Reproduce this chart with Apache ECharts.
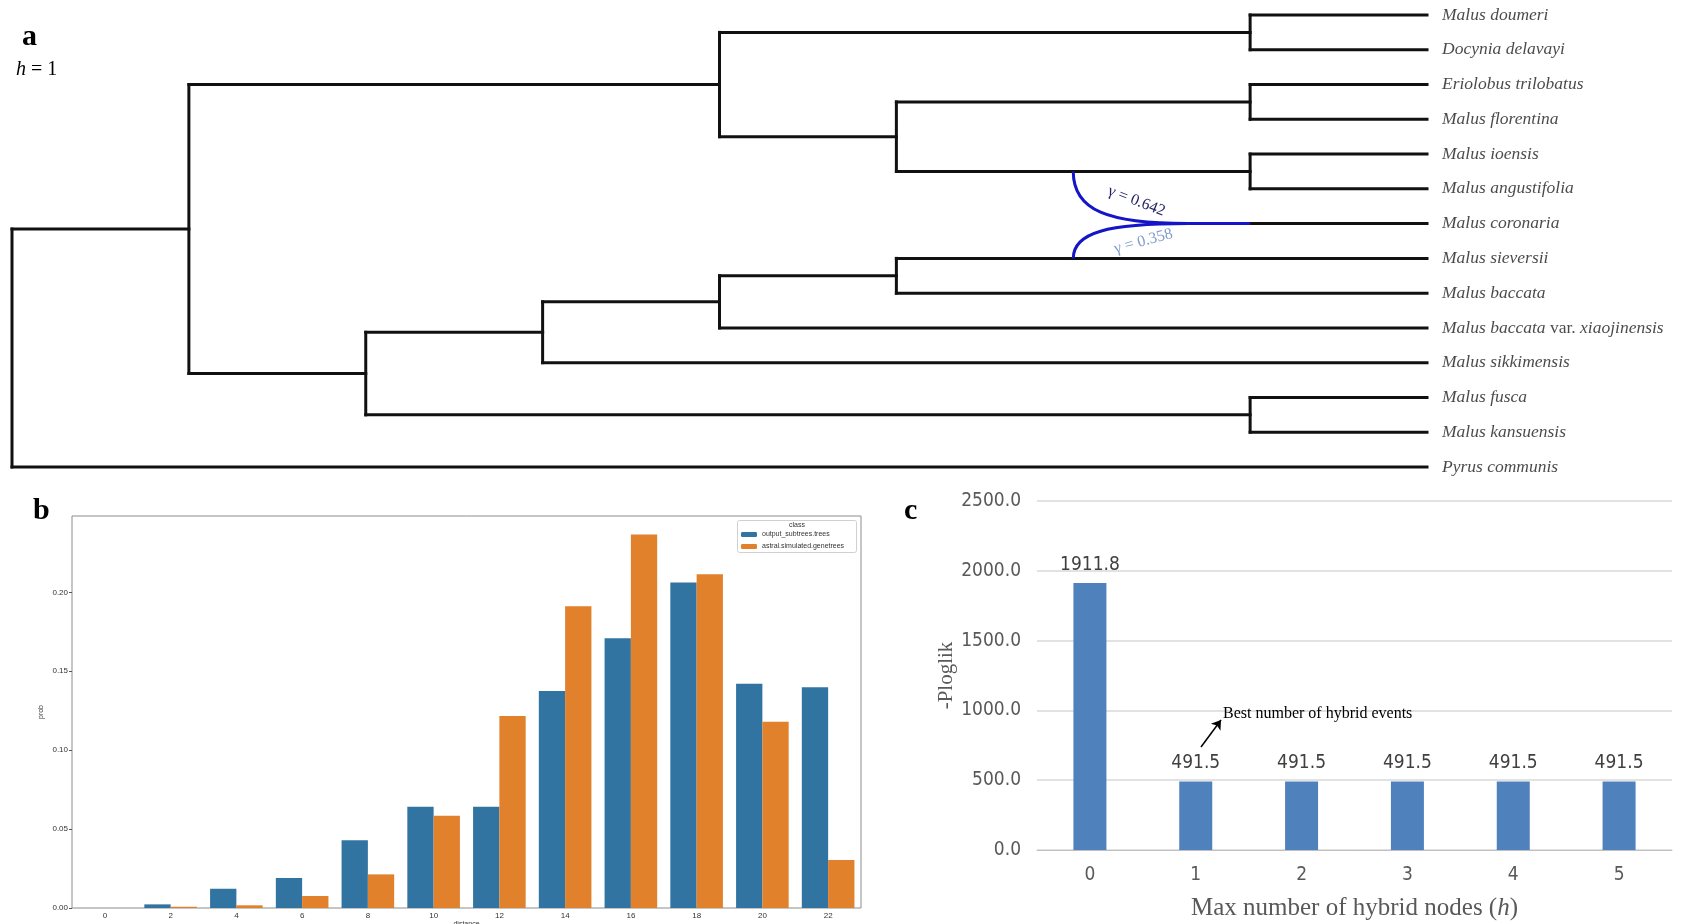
<!DOCTYPE html>
<html lang="en">
<head>
<meta charset="UTF-8">
<title>Malus hybrid network</title>
<script src="https://cdn.jsdelivr.net/npm/echarts@6/dist/echarts.min.js"></script>
<style>
    html, body { margin: 0; padding: 0; background: #fff; }
    #chart { width: 1682px; height: 924px; }
</style>
</head>
<body>
<div id="chart"></div>
<script type="text/javascript">
    // ---- a: network (h = 1) ----
    var leafNames = ['Malus doumeri', 'Docynia delavayi', 'Eriolobus trilobatus', 'Malus florentina',
        'Malus ioensis', 'Malus angustifolia', 'Malus coronaria', 'Malus sieversii', 'Malus baccata',
        'Malus baccata var. xiaojinensis', 'Malus sikkimensis', 'Malus fusca', 'Malus kansuensis', 'Pyrus communis'];
    var nodeDepth = {root: 0, A: 1, G: 2, H: 3, B: 4, I: 4, D: 5, J: 5, C: 7, E: 7, F: 7, K: 7};
    var nodeChildren = {
        root: ['A', 'Pyrus communis'],
        A: ['B', 'G'],
        B: ['C', 'D'],
        C: ['Malus doumeri', 'Docynia delavayi'],
        D: ['E', 'F'],
        E: ['Eriolobus trilobatus', 'Malus florentina'],
        F: ['Malus ioensis', 'Malus angustifolia'],
        G: ['H', 'K'],
        H: ['I', 'Malus sikkimensis'],
        I: ['J', 'Malus baccata var. xiaojinensis'],
        J: ['Malus sieversii', 'Malus baccata'],
        K: ['Malus fusca', 'Malus kansuensis']
    };
    var leafDepth = 8;
    var hybridLeaf = 'Malus coronaria';
    var hybridParents = ['F', 'Malus sieversii'];
    var hybridGamma = [0.642, 0.358];
    var hybridStartDepth = 6, hybridMergeDepth = 6.65, hybridNodeDepth = 7;

    // ---- b: distance distribution ----
    var distCats = ['0', '2', '4', '6', '8', '10', '12', '14', '16', '18', '20', '22'];
    var probSubtrees = [0, 0.0023, 0.0122, 0.019, 0.0429, 0.0642, 0.0642, 0.1375, 0.1709, 0.2062, 0.1421, 0.1399];
    var probAstral = [0, 0.0008, 0.0017, 0.0076, 0.0213, 0.0585, 0.1217, 0.1912, 0.2366, 0.2115, 0.1181, 0.0304];
    var probTicks = [0, 0.05, 0.10, 0.15, 0.20];
    var classNames = ['output_subtrees.trees', 'astral.simulated.genetrees'];

    // ---- c: -ploglik by h ----
    var hybridNodes = ['0', '1', '2', '3', '4', '5'];
    var negPloglik = [1911.8, 491.5, 491.5, 491.5, 491.5, 491.5];

    // tree layout: leaves in order, internal nodes at mean of children
    var yOf = {};
    leafNames.forEach(function (n, i) { yOf[n] = i; });
    function placeY(id) {
        if (yOf[id] !== undefined) return yOf[id];
        var ch = nodeChildren[id], s = 0;
        ch.forEach(function (c) { s += placeY(c); });
        yOf[id] = s / ch.length;
        return yOf[id];
    }
    placeY('root');
    function depthOf(id) { return nodeDepth[id] !== undefined ? nodeDepth[id] : leafDepth; }

    var segments = [];
    Object.keys(nodeChildren).forEach(function (id) {
        var d = nodeDepth[id];
        var ys = nodeChildren[id].map(function (c) { return yOf[c]; });
        segments.push([d, Math.min.apply(null, ys), d, Math.max.apply(null, ys)]);
        nodeChildren[id].forEach(function (c) {
            segments.push([d, yOf[c], depthOf(c), yOf[c]]);
        });
    });
    segments.push([hybridNodeDepth, yOf[hybridLeaf], leafDepth, yOf[hybridLeaf]]);

    var hybridEdges = hybridParents.map(function (p, i) {
        return [hybridStartDepth, yOf[p], hybridMergeDepth, yOf[hybridLeaf], hybridGamma[i]];
    });

    var serif = "'Liberation Serif', 'Times New Roman', serif";
    var narrow = "'Liberation Sans Narrow', 'DejaVu Sans Condensed', 'Noto Sans', sans-serif";

    var chart = echarts.init(document.getElementById('chart'));
    var option = {
        animation: false,
        grid: [
            {left: 12, top: 15, width: 1415, height: 452, outerBoundsMode: 'none'},
            {left: 72, top: 516, width: 789, height: 392, show: true, borderColor: '#8c8c8c', borderWidth: 1,
                outerBoundsMode: 'none'},
            {left: 1037, top: 501, width: 635, height: 349, outerBoundsMode: 'none'}
        ],
        xAxis: [
            {gridIndex: 0, type: 'value', min: 0, max: leafDepth, show: false},
            {
                gridIndex: 1, type: 'category', data: distCats,
                name: 'distance', nameLocation: 'middle', nameGap: 11,
                nameTextStyle: {fontSize: 7, color: '#333'},
                axisLine: {show: false},
                axisTick: {alignWithLabel: true, length: 3, lineStyle: {color: '#555'}},
                axisLabel: {fontSize: 8, color: '#333', margin: 4}
            },
            {
                gridIndex: 2, type: 'category', data: hybridNodes,
                name: 'Max number of hybrid nodes ({i|h})', nameLocation: 'middle', nameGap: 46,
                nameTextStyle: {
                    fontFamily: serif, fontSize: 25, color: '#595959',
                    rich: {i: {fontStyle: 'italic', fontFamily: serif, fontSize: 25, color: '#595959'}}
                },
                axisLine: {lineStyle: {color: '#bfbfbf'}},
                axisTick: {alignWithLabel: false, length: 6, lineStyle: {color: '#bfbfbf'}},
                axisLabel: {fontFamily: narrow, fontSize: 19, color: '#595959', margin: 16}
            }
        ],
        yAxis: [
            {gridIndex: 0, type: 'value', min: 0, max: leafNames.length - 1, inverse: true, show: false},
            {
                gridIndex: 1, type: 'value', min: 0, max: 0.2484, interval: 0.05,
                name: 'prob', nameLocation: 'middle', nameGap: 27, nameRotate: 90,
                nameTextStyle: {fontSize: 7, color: '#333'},
                axisLine: {show: false},
                splitLine: {show: false},
                axisTick: {show: true, length: 3, lineStyle: {color: '#555'}, customValues: probTicks},
                axisLabel: {
                    fontSize: 8, color: '#333', margin: 4, customValues: probTicks,
                    formatter: function (v) { return v.toFixed(2); }
                }
            },
            {
                gridIndex: 2, type: 'value', min: 0, max: 2500, interval: 500,
                name: '-Ploglik', nameLocation: 'middle', nameGap: 78, nameRotate: 90,
                nameTextStyle: {fontFamily: serif, fontSize: 21, color: '#595959'},
                axisLine: {show: false},
                axisTick: {show: false},
                splitLine: {lineStyle: {color: '#d9d9d9', width: 1.5}},
                axisLabel: {
                    fontFamily: narrow, fontSize: 19, color: '#595959', margin: 16,
                    formatter: function (v) { return v.toFixed(1); }
                }
            }
        ],
        legend: {
            data: classNames, orient: 'vertical', left: 741, top: 531, z: 10,
            itemWidth: 16, itemHeight: 5, itemGap: 5,
            textStyle: {fontSize: 7, color: '#333'},
            padding: 0
        },
        graphic: [
            {type: 'text', left: 22, top: 22, style: {text: 'a', font: 'bold 30px ' + serif, fill: '#000'}},
            {type: 'text', left: 16, top: 60, style: {
                text: '{i|h} = 1', fill: '#000', font: '20px ' + serif,
                rich: {i: {fontStyle: 'italic', fontFamily: serif, fontSize: 20}}
            }},
            {type: 'text', left: 33, top: 496, style: {text: 'b', font: 'bold 30px ' + serif, fill: '#000'}},
            {type: 'text', left: 904, top: 496, style: {text: 'c', font: 'bold 30px ' + serif, fill: '#000'}},
            {type: 'rect', shape: {x: 737.5, y: 520.5, width: 119, height: 32, r: 2},
                style: {fill: '#fff', stroke: '#d0d0d0', lineWidth: 1}, z: 1},
            {type: 'text', x: 797, y: 525, style: {text: 'class', fontSize: 7, fill: '#333', align: 'center', verticalAlign: 'middle'}, z: 6},
            {type: 'text', left: 1223, top: 706, style: {text: 'Best number of hybrid events', font: '16px ' + serif, fill: '#000'}, z: 6}
        ],
        series: [
            {
                type: 'custom', xAxisIndex: 0, yAxisIndex: 0, data: segments, silent: true,
                renderItem: function (params, api) {
                    var p1 = api.coord([api.value(0), api.value(1)]);
                    var p2 = api.coord([api.value(2), api.value(3)]);
                    return {
                        type: 'line',
                        shape: {x1: p1[0], y1: p1[1], x2: p2[0], y2: p2[1]},
                        style: {stroke: '#111', lineWidth: 3, lineCap: 'square'}
                    };
                }
            },
            {
                type: 'custom', xAxisIndex: 0, yAxisIndex: 0, data: hybridEdges, silent: true,
                renderItem: function (params, api) {
                    var p0 = api.coord([api.value(0), api.value(1)]);
                    var p1 = api.coord([api.value(2), api.value(3)]);
                    var pn = api.coord([hybridNodeDepth, api.value(3)]);
                    var dx = p1[0] - p0[0], dy = p1[1] - p0[1];
                    var upper = dy > 0;
                    var lx = p0[0] + dx * (upper ? 0.55 : 0.61);
                    var ly = p0[1] + dy * (upper ? 0.57 : 0.49);
                    return {
                        type: 'group',
                        children: [
                            {
                                type: 'bezierCurve',
                                shape: {x1: p0[0], y1: p0[1], cpx1: p0[0], cpy1: p0[1] + dy * 0.75,
                                    cpx2: p0[0] + dx * 0.3, cpy2: p1[1], x2: p1[0], y2: p1[1]},
                                style: {stroke: '#1414c8', lineWidth: 3, fill: null}
                            },
                            {
                                type: 'line',
                                shape: {x1: p1[0], y1: p1[1], x2: pn[0], y2: pn[1]},
                                style: {stroke: '#1414c8', lineWidth: 3}
                            },
                            {
                                type: 'text', x: lx, y: ly, rotation: upper ? -0.37 : 0.26,
                                style: {
                                    text: '\u03b3 = ' + api.value(4).toFixed(3),
                                    font: '16px ' + serif, fill: upper ? '#1f1f66' : '#7f9ccc',
                                    align: 'center', verticalAlign: 'middle'
                                }
                            }
                        ]
                    };
                }
            },
            {
                type: 'scatter', xAxisIndex: 0, yAxisIndex: 0, symbolSize: 0, silent: true,
                data: leafNames.map(function (n, i) { return [leafDepth, i, n]; }),
                label: {
                    show: true, position: 'right', distance: 15, color: '#1a1a1a',
                    fontFamily: serif, fontStyle: 'italic', fontSize: 17.5,
                    formatter: function (p) {
                        var n = p.value[2];
                        if (n.indexOf(' var. ') > 0) {
                            var parts = n.split(' var. ');
                            return parts[0] + ' {r|var.} ' + parts[1];
                        }
                        return n;
                    },
                    rich: {r: {fontStyle: 'normal', fontFamily: serif, fontSize: 17.5, color: '#1a1a1a'}}
                }
            },
            {
                name: classNames[0], type: 'bar', xAxisIndex: 1, yAxisIndex: 1,
                data: probSubtrees, barGap: '0%', barCategoryGap: '20%',
                itemStyle: {color: '#3274a1'}
            },
            {
                name: classNames[1], type: 'bar', xAxisIndex: 1, yAxisIndex: 1,
                data: probAstral, barGap: '0%', barCategoryGap: '20%',
                itemStyle: {color: '#e1812c'}
            },
            {
                type: 'bar', xAxisIndex: 2, yAxisIndex: 2, data: negPloglik, barWidth: 33,
                itemStyle: {color: '#4f81bd'},
                label: {
                    show: true, position: 'top', distance: 9,
                    fontFamily: narrow, fontSize: 19, color: '#404040',
                    formatter: function (p) { return p.value.toFixed(1); }
                },
                markLine: {
                    silent: true, symbol: ['none', 'arrow'], symbolSize: 9,
                    label: {show: false},
                    lineStyle: {color: '#000', width: 1.5, type: 'solid'},
                    data: [[{x: 1201, y: 747}, {x: 1221, y: 720}]]
                }
            }
        ]
    };
    chart.setOption(option);
</script>
</body>
</html>
